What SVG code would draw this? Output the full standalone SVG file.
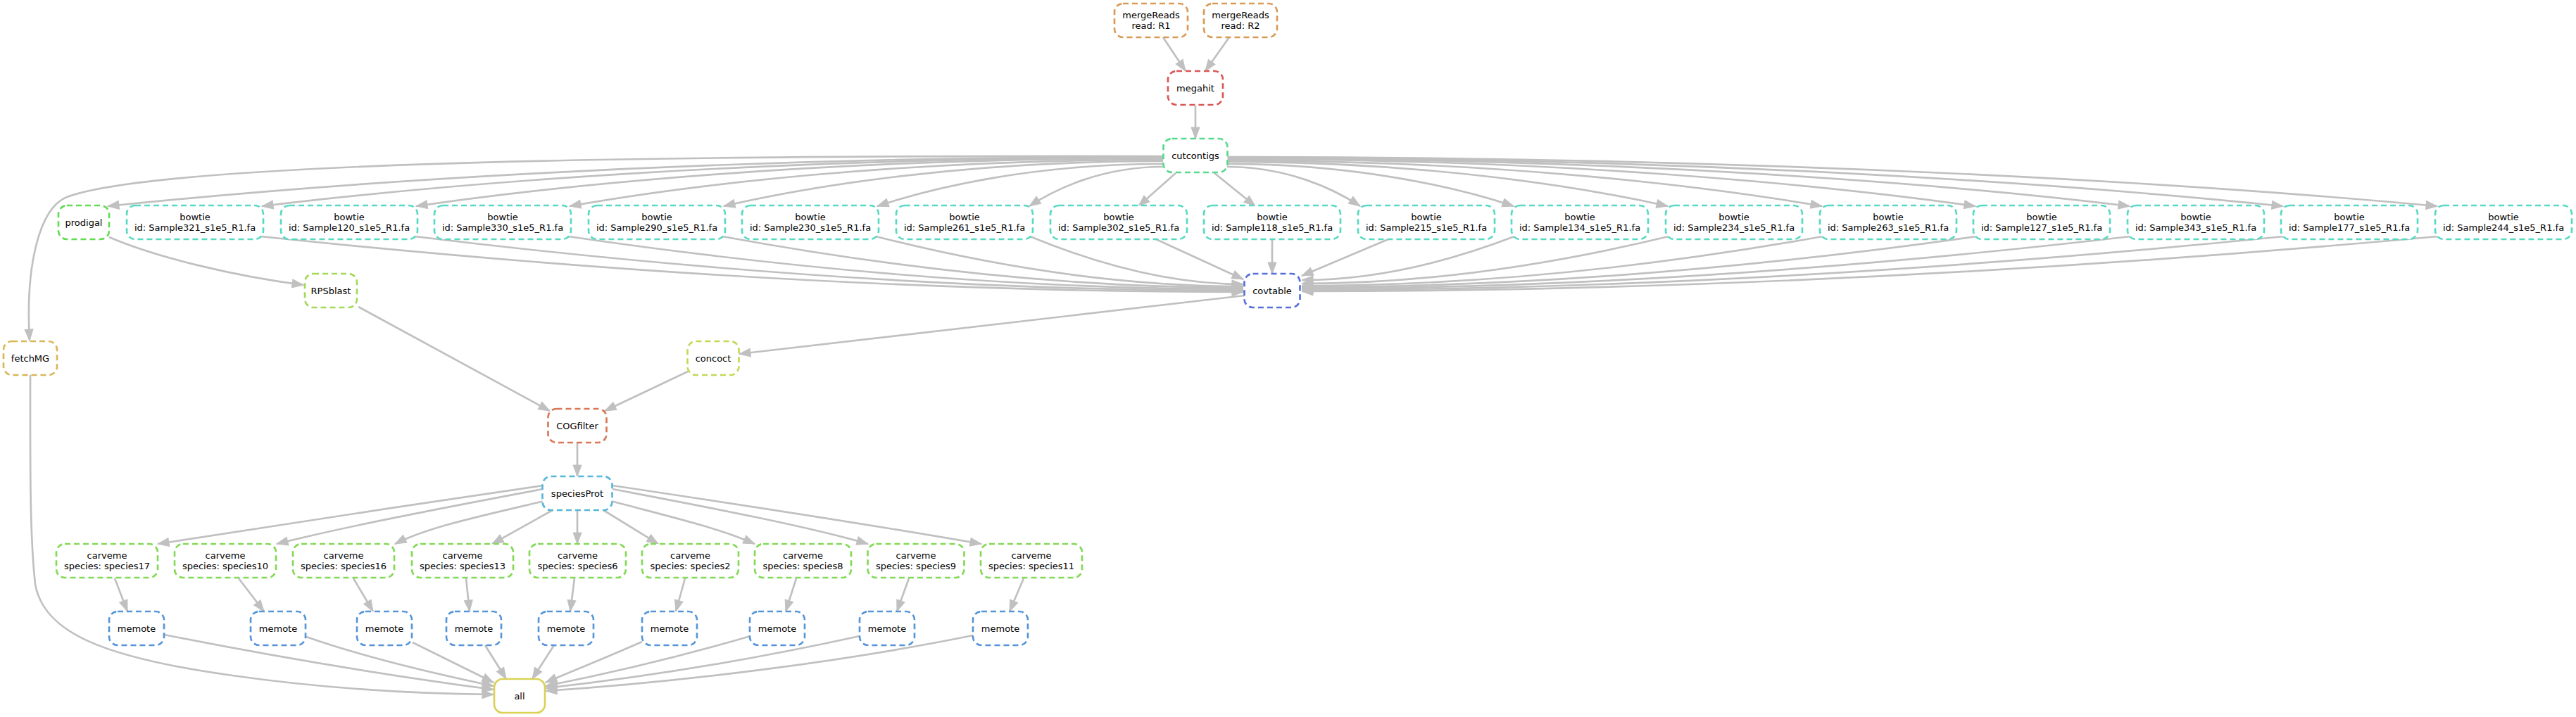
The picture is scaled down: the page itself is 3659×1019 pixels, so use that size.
<svg xmlns="http://www.w3.org/2000/svg" width="3659" height="1019" viewBox="0 0 3659 1019">
<style>
.n{fill:#fff;stroke-width:2.67;stroke-dasharray:8,5}
.s{fill:#fff;stroke-width:2.67}
text{font-family:"DejaVu Sans","Noto Sans",sans-serif;font-size:13px;text-anchor:middle;fill:#000}
.e path{fill:none;stroke:#c0c0c0;stroke-width:2.67;marker-end:url(#ah)}
</style>
<defs>
<marker id="ah" markerUnits="userSpaceOnUse" markerWidth="18" markerHeight="14" refX="16" refY="7" orient="auto" overflow="visible">
<path d="M0,1 L16,7 L0,13 z" fill="#c0c0c0" stroke="#c0c0c0" stroke-width="1"/>
</marker>
</defs>
<rect width="3659" height="1019" fill="#fff"/>
<g class="e" id="connectors">
<path d="M1652,53 L1684,101"/>
<path d="M1746,53 L1712,101"/>
<path d="M1698,150 L1698,197"/>
<path d="M1652,222 C1200,221 250,222 95,280 C55,296 36,380 42,484"/>
<path d="M1652,223 C977,223 452,262 153,293"/>
<path d="M1652,224 C1076,224 628,262 372,293"/>
<path d="M1652,225 C1175,225 803,262 591,293"/>
<path d="M1652,227 C1273,227 978,263 809,293"/>
<path d="M1652,229 C1371,229 1153,264 1028,293"/>
<path d="M1652,233 C1469,233 1327,266 1246,293"/>
<path d="M1652,237 C1566,237 1500,268 1462,293"/>
<path d="M1670,246 L1617,293"/>
<path d="M1725,246 L1783,293"/>
<path d="M1743,237 C1828,237 1894,268 1932,293"/>
<path d="M1743,233 C1926,233 2069,266 2150,293"/>
<path d="M1743,230 C2025,230 2244,265 2369,293"/>
<path d="M1743,228 C2123,228 2419,264 2588,293"/>
<path d="M1743,226 C2221,226 2593,263 2806,293"/>
<path d="M1743,225 C2320,225 2769,262 3025,293"/>
<path d="M1743,224 C2418,224 2943,262 3243,293"/>
<path d="M1743,223 C2517,223 3118,261 3462,293"/>
<path d="M155,337 C220,365 330,392 431,405"/>
<path d="M370,336 C790,380 1278,415 1766,415"/>
<path d="M589,336 C943,379 1354,413 1766,413"/>
<path d="M807,336 C1095,378 1431,411 1766,411"/>
<path d="M1026,336 C1249,377 1507,409 1766,409"/>
<path d="M1244,336 C1401,376 1584,407 1766,407"/>
<path d="M1463,336 C1555,374 1660,404 1766,404"/>
<path d="M1642,340 L1766,397"/>
<path d="M1807,340 L1807,389"/>
<path d="M1972,340 L1849,392"/>
<path d="M2151,336 C2060,371 1954,398 1849,398"/>
<path d="M2370,336 C2213,374 2031,403 1849,403"/>
<path d="M2589,336 C2366,376 2108,406 1849,406"/>
<path d="M2807,336 C2519,377 2184,408 1849,408"/>
<path d="M3026,336 C2672,377 2261,410 1849,410"/>
<path d="M3244,336 C2825,378 2337,412 1849,412"/>
<path d="M3463,336 C2978,380 2414,414 1849,414"/>
<path d="M1768,420 L1050,503"/>
<path d="M509,436 L781,584"/>
<path d="M977,528 L859,584"/>
<path d="M820,629 L820,677"/>
<path d="M771,690 C590,716 400,746 224,773"/>
<path d="M771,695 C650,718 500,746 393,773"/>
<path d="M773,712 C690,732 610,748 561,773"/>
<path d="M785,725 L699,773"/>
<path d="M820,725 L820,773"/>
<path d="M857,725 L935,773"/>
<path d="M868,712 C950,734 1020,750 1072,773"/>
<path d="M870,695 C990,718 1140,746 1233,773"/>
<path d="M870,690 C1050,717 1250,748 1394,773"/>
<path d="M163,822 L181,869"/>
<path d="M339,822 L375,869"/>
<path d="M502,822 L530,869"/>
<path d="M662,822 L667,869"/>
<path d="M816,822 L810,869"/>
<path d="M973,822 L960,869"/>
<path d="M1131,822 L1116,869"/>
<path d="M1291,822 L1274,869"/>
<path d="M1454,822 L1434,869"/>
<path d="M43,533 C43,650 42,760 50,830 C62,900 150,935 330,960 C470,980 600,986 701,987"/>
<path d="M233,902 C400,935 550,960 701,980"/>
<path d="M435,905 C520,935 620,958 701,975"/>
<path d="M586,913 C630,935 665,952 701,970"/>
<path d="M689,917 L719,965"/>
<path d="M787,917 L756,965"/>
<path d="M912,912 C860,935 810,955 775,970"/>
<path d="M1066,904 C960,935 860,958 775,975"/>
<path d="M1221,904 C1080,935 920,962 775,978"/>
<path d="M1382,903 C1200,940 980,968 775,982"/>
</g>
<g id="n-mergeReads-R1"><rect class="n" stroke="#d99a57" x="1583" y="5" width="104" height="48" rx="12"/><text x="1635" y="26">mergeReads</text><text x="1635" y="41">read: R1</text></g>
<g id="n-mergeReads-R2"><rect class="n" stroke="#d99a57" x="1710" y="5" width="104" height="48" rx="12"/><text x="1762" y="26">mergeReads</text><text x="1762" y="41">read: R2</text></g>
<g id="n-megahit"><rect class="n" stroke="#d95757" x="1659" y="101" width="78" height="48" rx="12"/><text x="1698" y="129.5">megahit</text></g>
<g id="n-cutcontigs"><rect class="n" stroke="#57d98d" x="1652.5" y="197" width="91" height="48" rx="12"/><text x="1698" y="225.5">cutcontigs</text></g>
<g id="n-prodigal"><rect class="n" stroke="#66d957" x="83" y="292" width="72" height="48" rx="12"/><text x="119" y="320.5">prodigal</text></g>
<g id="n-bowtie-321"><rect class="n" stroke="#57d9c4" x="180" y="292" width="194" height="48" rx="12"/><text x="277" y="313">bowtie</text><text x="277" y="328">id: Sample321_s1e5_R1.fa</text></g>
<g id="n-bowtie-120"><rect class="n" stroke="#57d9c4" x="399" y="292" width="194" height="48" rx="12"/><text x="496" y="313">bowtie</text><text x="496" y="328">id: Sample120_s1e5_R1.fa</text></g>
<g id="n-bowtie-330"><rect class="n" stroke="#57d9c4" x="617" y="292" width="194" height="48" rx="12"/><text x="714" y="313">bowtie</text><text x="714" y="328">id: Sample330_s1e5_R1.fa</text></g>
<g id="n-bowtie-290"><rect class="n" stroke="#57d9c4" x="836" y="292" width="194" height="48" rx="12"/><text x="933" y="313">bowtie</text><text x="933" y="328">id: Sample290_s1e5_R1.fa</text></g>
<g id="n-bowtie-230"><rect class="n" stroke="#57d9c4" x="1054" y="292" width="194" height="48" rx="12"/><text x="1151" y="313">bowtie</text><text x="1151" y="328">id: Sample230_s1e5_R1.fa</text></g>
<g id="n-bowtie-261"><rect class="n" stroke="#57d9c4" x="1273" y="292" width="194" height="48" rx="12"/><text x="1370" y="313">bowtie</text><text x="1370" y="328">id: Sample261_s1e5_R1.fa</text></g>
<g id="n-bowtie-302"><rect class="n" stroke="#57d9c4" x="1492" y="292" width="194" height="48" rx="12"/><text x="1589" y="313">bowtie</text><text x="1589" y="328">id: Sample302_s1e5_R1.fa</text></g>
<g id="n-bowtie-118"><rect class="n" stroke="#57d9c4" x="1710" y="292" width="194" height="48" rx="12"/><text x="1807" y="313">bowtie</text><text x="1807" y="328">id: Sample118_s1e5_R1.fa</text></g>
<g id="n-bowtie-215"><rect class="n" stroke="#57d9c4" x="1929" y="292" width="194" height="48" rx="12"/><text x="2026" y="313">bowtie</text><text x="2026" y="328">id: Sample215_s1e5_R1.fa</text></g>
<g id="n-bowtie-134"><rect class="n" stroke="#57d9c4" x="2147" y="292" width="194" height="48" rx="12"/><text x="2244" y="313">bowtie</text><text x="2244" y="328">id: Sample134_s1e5_R1.fa</text></g>
<g id="n-bowtie-234"><rect class="n" stroke="#57d9c4" x="2366" y="292" width="194" height="48" rx="12"/><text x="2463" y="313">bowtie</text><text x="2463" y="328">id: Sample234_s1e5_R1.fa</text></g>
<g id="n-bowtie-263"><rect class="n" stroke="#57d9c4" x="2585" y="292" width="194" height="48" rx="12"/><text x="2682" y="313">bowtie</text><text x="2682" y="328">id: Sample263_s1e5_R1.fa</text></g>
<g id="n-bowtie-127"><rect class="n" stroke="#57d9c4" x="2803" y="292" width="194" height="48" rx="12"/><text x="2900" y="313">bowtie</text><text x="2900" y="328">id: Sample127_s1e5_R1.fa</text></g>
<g id="n-bowtie-343"><rect class="n" stroke="#57d9c4" x="3022" y="292" width="194" height="48" rx="12"/><text x="3119" y="313">bowtie</text><text x="3119" y="328">id: Sample343_s1e5_R1.fa</text></g>
<g id="n-bowtie-177"><rect class="n" stroke="#57d9c4" x="3240" y="292" width="194" height="48" rx="12"/><text x="3337" y="313">bowtie</text><text x="3337" y="328">id: Sample177_s1e5_R1.fa</text></g>
<g id="n-bowtie-244"><rect class="n" stroke="#57d9c4" x="3459" y="292" width="194" height="48" rx="12"/><text x="3556" y="313">bowtie</text><text x="3556" y="328">id: Sample244_s1e5_R1.fa</text></g>
<g id="n-RPSblast"><rect class="n" stroke="#a4d957" x="433" y="389" width="74" height="48" rx="12"/><text x="470" y="417.5">RPSblast</text></g>
<g id="n-covtable"><rect class="n" stroke="#5770d9" x="1767.5" y="389" width="79" height="48" rx="12"/><text x="1807" y="417.5">covtable</text></g>
<g id="n-fetchMG"><rect class="n" stroke="#d9b657" x="5" y="485" width="76" height="48" rx="12"/><text x="43" y="513.5">fetchMG</text></g>
<g id="n-concoct"><rect class="n" stroke="#c2d957" x="976.5" y="485" width="73" height="48" rx="12"/><text x="1013" y="513.5">concoct</text></g>
<g id="n-COGfilter"><rect class="n" stroke="#d97857" x="778.5" y="581" width="83" height="48" rx="12"/><text x="820" y="609.5">COGfilter</text></g>
<g id="n-speciesProt"><rect class="n" stroke="#57b6d9" x="770.5" y="677" width="99" height="48" rx="12"/><text x="820" y="705.5">speciesProt</text></g>
<g id="n-carveme-17"><rect class="n" stroke="#84d957" x="80" y="773" width="144" height="48" rx="12"/><text x="152" y="794">carveme</text><text x="152" y="809">species: species17</text></g>
<g id="n-carveme-10"><rect class="n" stroke="#84d957" x="248" y="773" width="144" height="48" rx="12"/><text x="320" y="794">carveme</text><text x="320" y="809">species: species10</text></g>
<g id="n-carveme-16"><rect class="n" stroke="#84d957" x="416" y="773" width="144" height="48" rx="12"/><text x="488" y="794">carveme</text><text x="488" y="809">species: species16</text></g>
<g id="n-carveme-13"><rect class="n" stroke="#84d957" x="585" y="773" width="144" height="48" rx="12"/><text x="657" y="794">carveme</text><text x="657" y="809">species: species13</text></g>
<g id="n-carveme-6"><rect class="n" stroke="#84d957" x="752" y="773" width="137" height="48" rx="12"/><text x="820.5" y="794">carveme</text><text x="820.5" y="809">species: species6</text></g>
<g id="n-carveme-2"><rect class="n" stroke="#84d957" x="912" y="773" width="137" height="48" rx="12"/><text x="980.5" y="794">carveme</text><text x="980.5" y="809">species: species2</text></g>
<g id="n-carveme-8"><rect class="n" stroke="#84d957" x="1072" y="773" width="137" height="48" rx="12"/><text x="1140.5" y="794">carveme</text><text x="1140.5" y="809">species: species8</text></g>
<g id="n-carveme-9"><rect class="n" stroke="#84d957" x="1232.5" y="773" width="137" height="48" rx="12"/><text x="1301" y="794">carveme</text><text x="1301" y="809">species: species9</text></g>
<g id="n-carveme-11"><rect class="n" stroke="#84d957" x="1393" y="773" width="144" height="48" rx="12"/><text x="1465" y="794">carveme</text><text x="1465" y="809">species: species11</text></g>
<g id="n-memote-1"><rect class="n" stroke="#5795d9" x="155" y="869" width="78" height="48" rx="12"/><text x="194" y="897.5">memote</text></g>
<g id="n-memote-2"><rect class="n" stroke="#5795d9" x="356" y="869" width="78" height="48" rx="12"/><text x="395" y="897.5">memote</text></g>
<g id="n-memote-3"><rect class="n" stroke="#5795d9" x="507" y="869" width="78" height="48" rx="12"/><text x="546" y="897.5">memote</text></g>
<g id="n-memote-4"><rect class="n" stroke="#5795d9" x="634" y="869" width="78" height="48" rx="12"/><text x="673" y="897.5">memote</text></g>
<g id="n-memote-5"><rect class="n" stroke="#5795d9" x="765" y="869" width="78" height="48" rx="12"/><text x="804" y="897.5">memote</text></g>
<g id="n-memote-6"><rect class="n" stroke="#5795d9" x="912" y="869" width="78" height="48" rx="12"/><text x="951" y="897.5">memote</text></g>
<g id="n-memote-7"><rect class="n" stroke="#5795d9" x="1065" y="869" width="78" height="48" rx="12"/><text x="1104" y="897.5">memote</text></g>
<g id="n-memote-8"><rect class="n" stroke="#5795d9" x="1221" y="869" width="78" height="48" rx="12"/><text x="1260" y="897.5">memote</text></g>
<g id="n-memote-9"><rect class="n" stroke="#5795d9" x="1382" y="869" width="78" height="48" rx="12"/><text x="1421" y="897.5">memote</text></g>
<g id="n-all"><rect class="s" stroke="#d9d257" x="702" y="965" width="72" height="48" rx="12"/><text x="738" y="993.5">all</text></g>
</svg>
